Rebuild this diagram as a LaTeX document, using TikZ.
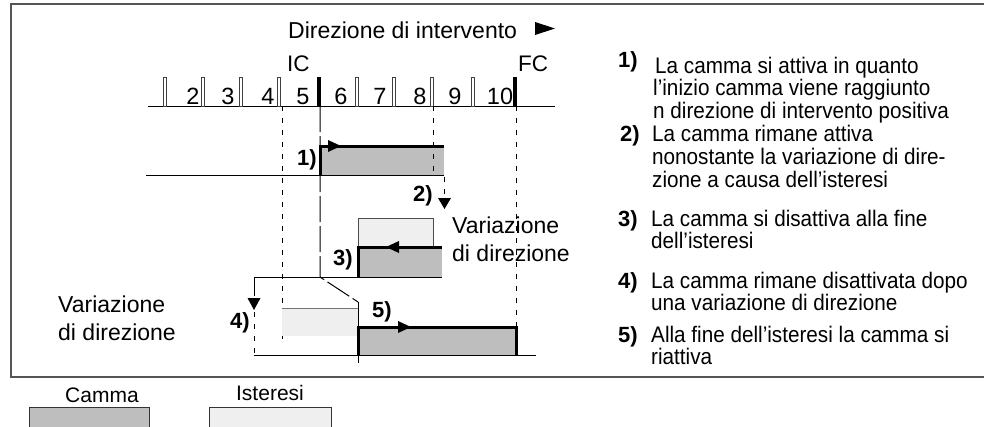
\documentclass[tikz,border=0pt]{standalone}
\usepackage{fontspec}
\setmainfont{Liberation Sans}
\newfontfamily\condfont{Liberation Sans}[FakeStretch=0.92]
\definecolor{camgray}{HTML}{BEBEBE}
\definecolor{istgray}{HTML}{EFEFEF}
\definecolor{framec}{HTML}{555555}
\begin{document}
\begin{tikzpicture}[x=1pt,y=-1pt,
  txt/.style={font=\fontsize{22.5}{22.5}\selectfont, inner sep=0pt},
  vartxt/.style={font=\fontsize{23}{23}\selectfont, inner sep=0pt},
  ctxt/.style={font=\condfont\fontsize{22.5}{22.5}\selectfont, inner sep=0pt},
  numtxt/.style={font=\fontsize{23.5}{23.5}\selectfont, inner sep=0pt},
  ttltxt/.style={font=\fontsize{23}{23}\selectfont, inner sep=0pt},
  smalltxt/.style={font=\fontsize{21}{21}\selectfont, inner sep=0pt},
  lbl/.style={font=\fontsize{22}{22}\selectfont\bfseries, inner sep=0pt},
  thinline/.style={line width=1pt},
  edgeline/.style={line width=3pt},
  dsh/.style={line width=1pt, dash pattern=on 5pt off 7pt},
  ldsh/.style={line width=1pt, dash pattern=on 26pt off 4pt},
  tickbox/.style={line width=0.8pt, draw=black!75, fill=white}]
\useasboundingbox (0,0) rectangle (984,426);
% frame
\draw[framec, line width=1.4pt] (984,4) -- (11,4) -- (11,377) -- (984,377);
% title
\node[ttltxt, anchor=base west] (title) at (288,38) {Direzione di intervento};
\fill (535,22) -- (555,28.5) -- (535,35) -- cycle;
\node[txt, anchor=base west] (ic) at (287,71) {IC};
\node[txt, anchor=base west] (fc) at (518,71) {FC};
% ruler
\draw[thinline] (148,106) -- (555,106);
\foreach \x in {165,203,241,279,357,394,432,473}
  \draw[tickbox] (\x-1.7,77) rectangle (\x+1.7,106);
\fill (316.5,77) rectangle (320.5,106);
\fill (512.5,77) rectangle (516.5,106);
\foreach \n/\x in {2/193,3/228,4/268,5/303,6/341,7/380,8/420,9/455,10/500}
  \node[numtxt, anchor=base] (n\n) at (\x,104) {\n};
% vertical guides
\draw[dsh] (282,106) -- (282,343);
\draw[ldsh] (320,106) -- (320,277) -- (358,302);
\draw[thinline] (358,302) -- (358,363);
\draw[dsh] (516,106) -- (516,327);
% row 1
\draw[thinline] (146,175) -- (320,175);
\fill[camgray] (320,146) rectangle (444,175);
\draw[thinline] (320,175) -- (444,175);
\draw[dsh] (433,106) -- (433,175);
\draw[edgeline] (444,146) -- (320,146) -- (320,175);
\fill (328,140) -- (341,146) -- (328,152) -- cycle;
\node[lbl] (l1) at (307,160) {1)};
% 2) arrow
\draw[dsh] (444,177) -- (444,197);
\fill (438,198) -- (451,198) -- (444.5,209) -- cycle;
\node[lbl] (l2) at (423,196) {2)};
\node[vartxt, anchor=base west] (var1a) at (452,233) {Variazione};
\node[vartxt, anchor=base west] (var1b) at (452,261) {di direzione};
% row 2
\filldraw[fill=istgray, draw=black!70, thinline] (358,218) rectangle (433,247);
\fill[camgray] (358,247) rectangle (442,277);
\draw[thinline] (254,277) -- (442,277);
\draw[edgeline] (442,247) -- (358,247) -- (358,277);
\fill (386,247) -- (399,241) -- (399,253) -- cycle;
\node[lbl] (l3) at (343,260) {3)};
% row 3
\draw[thinline] (254,277) -- (254,296);
\fill (247.5,298) -- (260.5,298) -- (254,310) -- cycle;
\draw[dsh] (254,312) -- (254,355);
\fill[istgray] (282,308) rectangle (358,336);
\draw[thinline, black!55] (282,308) -- (358,308);
\fill[camgray] (358,327) rectangle (516,355);
\draw[thinline] (254,355) -- (536,355);
\draw[edgeline] (358,355) -- (358,327) -- (516,327) -- (516,355);
\fill (398,321) -- (411,327) -- (398,333) -- cycle;
\node[lbl] (l4) at (240,323) {4)};
\node[lbl] (l5) at (382,312) {5)};
\node[vartxt, anchor=base west] (var2a) at (58,312) {Variazione};
\node[vartxt, anchor=base west] (var2b) at (58,340) {di direzione};
% right column
\node[lbl, anchor=base west] (r1) at (618,67) {1)};
\node[ctxt, anchor=base west] (r1a) at (655,73) {La camma si attiva in quanto};
\node[ctxt, anchor=base west] (r1b) at (653,95.5) {l’inizio camma viene raggiunto};
\node[ctxt, anchor=base west] (r1c) at (653,118) {n direzione di intervento positiva};
\node[lbl, anchor=base west] (r2) at (620,141) {2)};
\node[ctxt, anchor=base west] (r2a) at (652,141) {La camma rimane attiva};
\node[ctxt, anchor=base west] (r2b) at (652,164) {nonostante la variazione di dire-};
\node[ctxt, anchor=base west] (r2c) at (652,187) {zione a causa dell’isteresi};
\node[lbl, anchor=base west] (r3) at (618,226) {3)};
\node[ctxt, anchor=base west] (r3a) at (651,226) {La camma si disattiva alla fine};
\node[ctxt, anchor=base west] (r3b) at (651,248) {dell’isteresi};
\node[lbl, anchor=base west] (r4) at (618,288) {4)};
\node[ctxt, anchor=base west] (r4a) at (651,288) {La camma rimane disattivata dopo};
\node[ctxt, anchor=base west] (r4b) at (651,310) {una variazione di direzione};
\node[lbl, anchor=base west] (r5) at (618,342) {5)};
\node[ctxt, anchor=base west] (r5a) at (651,342) {Alla fine dell’isteresi la camma si};
\node[ctxt, anchor=base west] (r5b) at (651,364) {riattiva};
% legend
\node[smalltxt, anchor=base] (camma) at (102,402) {Camma};
\filldraw[fill=camgray, draw=black!80, thinline] (29,407) rectangle (149,432);
\node[smalltxt, anchor=base] (ister) at (270,400) {Isteresi};
\filldraw[fill=istgray, draw=black!80, thinline] (209,407) rectangle (331,432);
\end{tikzpicture}
\end{document}
